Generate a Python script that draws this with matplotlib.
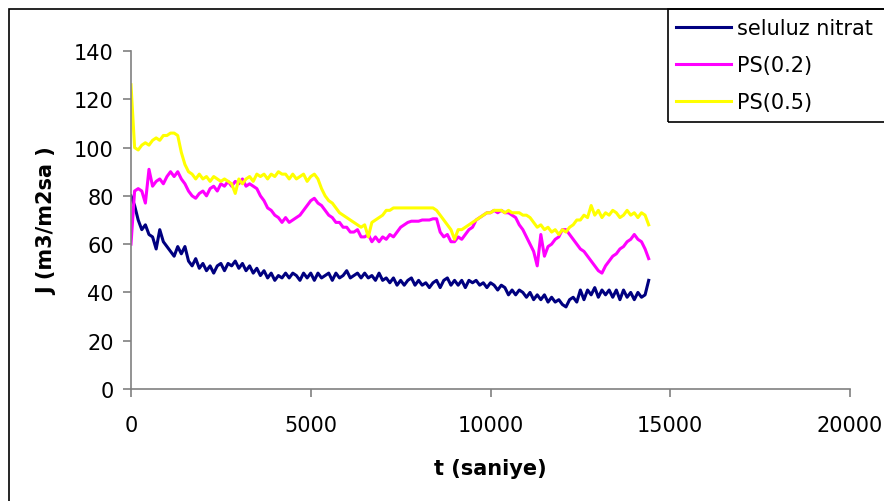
import numpy as np
import matplotlib
matplotlib.use("Agg")
import matplotlib.pyplot as plt
from matplotlib.patches import Rectangle

plt.rcParams["font.family"] = ["DejaVu Sans"]

# sampling grid of the flux readings [s]
t_s = np.arange(0, 14401, 100)

seluluz_nitrat = [
    80, 76, 70, 66, 68, 64, 63, 58, 66, 61,
    59, 57, 55, 59, 56, 59, 53, 51, 54, 50,
    52, 49, 51, 48, 51, 52, 49, 52, 51, 53,
    50, 52, 49, 51, 48, 50, 47, 49, 46, 48,
    45, 47, 46, 48, 46, 48, 47, 45, 48, 46,
    48, 45, 48, 46, 47, 48, 45, 48, 46, 47,
    49, 46, 47, 48, 46, 48, 46, 47, 45, 48,
    45, 46, 44, 46, 43, 45, 43, 45, 46, 43,
    45, 43, 44, 42, 44, 45, 42, 45, 46, 43,
    45, 43, 45, 42, 45, 44, 45, 43, 44, 42,
    44, 43, 41, 43, 42, 39, 41, 39, 41, 40,
    38, 40, 37, 39, 37, 39, 36, 38, 36, 37,
    35, 34, 37, 38, 36, 41, 37, 41, 39, 42,
    38, 41, 39, 41, 38, 41, 37, 41, 38, 40,
    37, 40, 38, 39, 45,
]

ps_02 = [
    60, 82, 83, 82, 77, 91, 84, 86, 87, 85,
    88, 90, 88, 90, 87, 85, 82, 80, 79, 81,
    82, 80, 83, 84, 82, 85, 84, 86, 84, 86,
    85, 87, 84, 85, 84, 83, 80, 78, 75, 74,
    72, 71, 69, 71, 69, 70, 71, 72, 74, 76,
    78, 79, 77, 76, 74, 72, 71, 69, 69, 67,
    67, 65, 65, 66, 63, 63, 64, 61, 63, 61,
    63, 62, 64, 63, 65, 67, 68, 69, 69.5, 69.5,
    69.5, 70, 70, 70, 70.5, 70.5, 65, 63, 64, 61,
    61, 63, 62, 64, 66, 67, 70, 71, 72, 73,
    73, 74, 73, 74, 73, 73, 72, 71, 68, 66,
    63, 60, 57, 51, 64, 55, 59, 60, 62, 63,
    66, 66, 64, 62, 60, 58, 57, 55, 53, 51,
    49, 48, 51, 53, 55, 56, 58, 59, 61, 62,
    64, 62, 61, 58, 54,
]

ps_05 = [
    126, 100, 99, 101, 102, 101, 103, 104, 103, 105,
    105, 106, 106, 105, 98, 93, 90, 89, 87, 89,
    87, 88, 86, 88, 87, 86, 87, 86, 85, 81,
    87, 85, 87, 88, 86, 89, 88, 89, 87, 89,
    88, 90, 89, 89, 87, 89, 87, 88, 89, 86,
    88, 89, 87, 83, 80, 78, 77, 75, 73, 72,
    71, 70, 69, 68, 67, 68, 63, 69, 70, 71,
    72, 74, 74, 75, 75, 75, 75, 75, 75, 75,
    75, 75, 75, 75, 75, 74, 72, 70, 68, 66,
    62, 66, 66, 67, 68, 69, 70, 71, 72, 73,
    73, 74, 74, 74, 73, 74, 73, 73, 73, 72,
    72, 71, 69, 67, 68, 66, 67, 65, 66, 64,
    66, 65, 67, 68, 70, 70, 72, 71, 76, 72,
    74, 71, 73, 72, 74, 73, 71, 72, 74, 72,
    73, 71, 73, 72, 68,
]

series = [
    ("seluluz nitrat", seluluz_nitrat, "#000080"),
    ("PS(0.2)", ps_02, "#FF00FF"),
    ("PS(0.5)", ps_05, "#FFFF00"),
]

fig = plt.figure(figsize=(8.84, 5.02), dpi=100)
ax = fig.add_axes([131 / 884, 112 / 502, 719 / 884, 338 / 502])

handles = []
for label, vals, color in series:
    (h,) = ax.plot(t_s, vals, color=color, lw=2.2, label=label)
    handles.append(h)

ax.set_xlim(0, 20000)
ax.set_ylim(0, 140)
ax.set_xticks(np.arange(0, 20001, 5000))
ax.set_yticks(np.arange(0, 141, 20))
for side in ("top", "right"):
    ax.spines[side].set_visible(False)
for side in ("left", "bottom"):
    ax.spines[side].set_color("#808080")
    ax.spines[side].set_linewidth(1.2)
ax.tick_params(direction="out", length=5.5, width=1.2, color="#808080",
               labelsize=15)
ax.tick_params(axis="x", pad=13)
ax.tick_params(axis="y", pad=7)
ax.set_xlabel("t (saniye)", fontsize=15, fontweight="bold", labelpad=17)
ax.set_ylabel("J (m3/m2sa )", fontsize=15, fontweight="bold", labelpad=12)

# chart frame and legend box run off the right / bottom edge
fig.patches.append(Rectangle((9 / 884, -0.1), 1.2, 1 - 10 / 502 + 0.1,
                             transform=fig.transFigure, fill=False,
                             ec="black", lw=1.2))
fig.patches.append(Rectangle((668 / 884, 1 - 123 / 502), 0.5, 113 / 502,
                             transform=fig.transFigure, fill=False,
                             ec="black", lw=1.2))
fig.legend(handles=handles, loc="upper left",
           bbox_to_anchor=(668 / 884, 1 - 12 / 502), frameon=False,
           fontsize=15, handlelength=2.65, handletextpad=0.3,
           labelspacing=0.8, borderaxespad=0, borderpad=0.36)

fig.savefig("out.png", dpi=100)
